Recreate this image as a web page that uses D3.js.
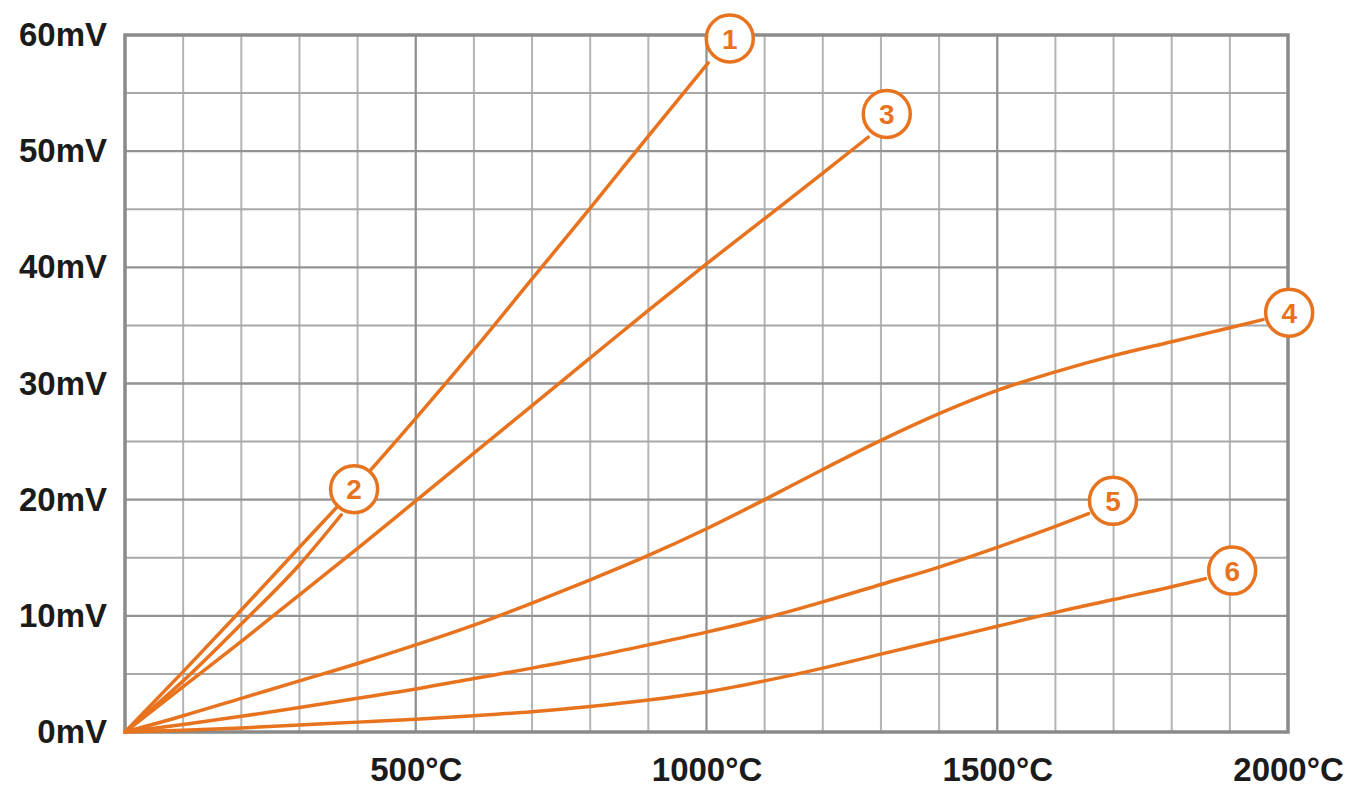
<!DOCTYPE html>
<html>
<head>
<meta charset="utf-8">
<script src="https://cdn.jsdelivr.net/npm/d3@7"></script>
<style>
  html, body { margin: 0; padding: 0; background: #ffffff; }
  svg { display: block; }
  text { font-family: "Liberation Sans", Arial, Helvetica, sans-serif; font-weight: bold; }
</style>
</head>
<body>
<svg id="chart" width="1352" height="787"></svg>
<script>
// ---- Data (temperature °C, voltage mV) ----
const xTicks = [500, 1000, 1500, 2000];
const xTickLabels = ["500°C", "1000°C", "1500°C", "2000°C"];
const yTicks = [0, 10, 20, 30, 40, 50, 60];
const yTickLabels = ["0mV", "10mV", "20mV", "30mV", "40mV", "50mV", "60mV"];

const curve1 = [[0,0],[100,5.2],[200,10.5],[300,15.9],[400,21.3],[500,27.0],[600,32.9],[700,39.0],[800,45.1],[900,51.3],[1003,57.6]];
const curve2 = [[0,0],[100,4.4],[200,9.3],[300,14.4],[372,18.7]];
const curve3 = [[0,0],[100,3.9],[200,7.8],[300,11.8],[400,15.8],[500,19.9],[600,24.0],[700,28.1],[800,32.2],[900,36.3],[1000,40.3],[1100,44.2],[1200,48.1],[1278,51.2]];
const curve4 = [[0,0],[100,1.4],[200,2.9],[300,4.4],[400,5.9],[500,7.5],[600,9.2],[700,11.1],[800,13.1],[900,15.2],[1000,17.5],[1100,20.0],[1200,22.6],[1300,25.1],[1400,27.4],[1500,29.4],[1600,31.0],[1700,32.4],[1800,33.6],[1900,34.8],[1957,35.5]];
const curve5 = [[0,0],[100,0.65],[200,1.35],[300,2.1],[400,2.9],[500,3.7],[600,4.6],[700,5.5],[800,6.45],[900,7.5],[1000,8.6],[1100,9.8],[1200,11.2],[1300,12.7],[1400,14.2],[1500,15.9],[1600,17.7],[1657,18.8]];
const curve6 = [[0,0],[100,0.15],[200,0.35],[300,0.6],[400,0.85],[500,1.1],[600,1.4],[700,1.75],[800,2.2],[900,2.75],[1000,3.45],[1100,4.4],[1200,5.5],[1300,6.7],[1400,7.9],[1500,9.1],[1600,10.3],[1700,11.4],[1800,12.5],[1858,13.2]];
const seriesList = [curve1, curve2, curve3, curve4, curve5, curve6];

const badgeLabels = ["1", "2", "3", "4", "5", "6"];
const badgePositions = [[1040, 59.7], [394, 20.9], [1310, 53.2], [2002, 36.1], [1699, 19.9], [1904, 13.9]];

// ---- Layout ----
const M = { left: 125, right: 1288, top: 35, bottom: 732 };
const orange = "#E8731E";

const x = d3.scaleLinear().domain([0, 2000]).range([M.left, M.right]);
const y = d3.scaleLinear().domain([0, 60]).range([M.bottom, M.top]);

const svg = d3.select("#chart");

// minor gridlines
const gMinor = svg.append("g");
gMinor.selectAll("line.vx")
  .data(d3.range(100, 2000, 100).filter(v => v % 500 !== 0))
  .join("line")
  .attr("x1", d => x(d)).attr("x2", d => x(d))
  .attr("y1", y(60)).attr("y2", y(0))
  .attr("stroke", "#b4b4b4").attr("stroke-width", 2);
gMinor.selectAll("line.hy")
  .data(d3.range(5, 60, 10))
  .join("line")
  .attr("x1", x(0)).attr("x2", x(2000))
  .attr("y1", d => y(d)).attr("y2", d => y(d))
  .attr("stroke", "#a8a8a8").attr("stroke-width", 2);

// major gridlines
const gMajor = svg.append("g");
gMajor.selectAll("line.mx")
  .data(xTicks.filter(v => v < 2000))
  .join("line")
  .attr("x1", d => x(d)).attr("x2", d => x(d))
  .attr("y1", y(60)).attr("y2", y(0))
  .attr("stroke", "#8e8e8e").attr("stroke-width", 2.2);
gMajor.selectAll("line.my")
  .data(yTicks.filter(v => v > 0 && v < 60))
  .join("line")
  .attr("x1", x(0)).attr("x2", x(2000))
  .attr("y1", d => y(d)).attr("y2", d => y(d))
  .attr("stroke", "#939393").attr("stroke-width", 2.4);

// frame
svg.append("rect")
  .attr("x", x(0)).attr("y", y(60))
  .attr("width", x(2000) - x(0)).attr("height", y(0) - y(60))
  .attr("fill", "none").attr("stroke", "#8a8a8a").attr("stroke-width", 3.5);

// axes labels via d3 axes (no domain / tick lines)
const yAxis = d3.axisLeft(y).tickValues(yTicks)
  .tickFormat((d, i) => yTickLabels[i]).tickSize(0).tickPadding(18);
const gy = svg.append("g").attr("transform", `translate(${M.left},0)`).call(yAxis);
gy.select(".domain").remove();
gy.selectAll("text")
  .attr("font-size", 33).attr("fill", "#1b1b1b")
  .attr("font-family", "'Liberation Sans', Arial, sans-serif").attr("font-weight", "bold");

const xAxis = d3.axisBottom(x).tickValues(xTicks)
  .tickFormat((d, i) => xTickLabels[i]).tickSize(0).tickPadding(26);
const gx = svg.append("g").attr("transform", `translate(0,${M.bottom})`).call(xAxis);
gx.select(".domain").remove();
gx.selectAll("text")
  .attr("font-size", 33).attr("fill", "#1b1b1b")
  .attr("font-family", "'Liberation Sans', Arial, sans-serif").attr("font-weight", "bold");

// curves
const line = d3.line().x(d => x(d[0])).y(d => y(d[1])).curve(d3.curveMonotoneX);
svg.append("g").selectAll("path")
  .data(seriesList)
  .join("path")
  .attr("d", line)
  .attr("fill", "none")
  .attr("stroke", orange)
  .attr("stroke-width", 3.5)
  .attr("stroke-linecap", "round")
  .attr("stroke-linejoin", "round");

// numbered badges
const badges = svg.append("g").selectAll("g")
  .data(badgePositions.map((p, i) => ({ p, label: badgeLabels[i] })))
  .join("g")
  .attr("transform", d => `translate(${x(d.p[0])},${y(d.p[1])})`);
badges.append("circle")
  .attr("r", 23.5)
  .attr("fill", "#ffffff")
  .attr("stroke", orange)
  .attr("stroke-width", 3.5);
badges.append("text")
  .text(d => d.label)
  .attr("text-anchor", "middle")
  .attr("dy", "0.36em")
  .attr("font-size", 28)
  .attr("fill", orange);
</script>
</body>
</html>
